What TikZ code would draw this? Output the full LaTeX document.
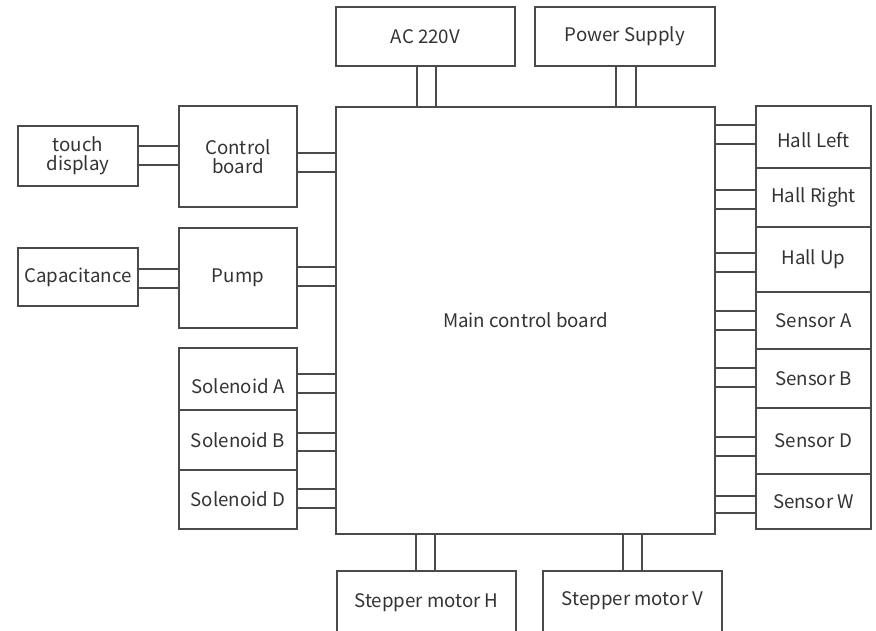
\documentclass[tikz,border=0pt]{standalone}
\usepackage{fontspec}
\setmainfont{Noto Sans CJK SC}
\usepackage{xcolor}
\usetikzlibrary{positioning}
\definecolor{linegray}{HTML}{4A4A4A}
\definecolor{textgray}{HTML}{333333}
\newcommand{\shiftlabel}[2]{\raisebox{#1}[\height][\depth]{#2}}

\begin{document}
\begin{tikzpicture}[
  x=1pt, y=-1pt,
  box/.style={draw=linegray, line width=1.4pt, align=center, inner sep=0pt, outer sep=0pt,
    text=textgray, font=\fontsize{18.7}{19}\selectfont},
  wire/.style={draw=linegray, line width=1.4pt}
]
\clip (0,0) rectangle (876,631);
% top
\node[box, minimum width=179, minimum height=59] (ac) at (425.5,36.5) {AC 220V};
\node[box, minimum width=180, minimum height=59] (ps) at (625,36.5) {Power Supply};
\node[box, minimum width=379, minimum height=427] (main) at (525.5,320.5) {Main control board};
% left
\node[box, minimum width=120, minimum height=60] (touch) at (78,156) {touch\\display};
\node[box, minimum width=118, minimum height=101] (ctrl) at (238,156.5) {Control\\board};
\node[box, minimum width=120, minimum height=58] (cap) at (78,277) {Capacitance};
\node[box, minimum width=118, minimum height=100] (pump) at (238,278) {Pump};
\node[box, minimum width=118, minimum height=62] (solA) at (238,379) {\shiftlabel{-7pt}{Solenoid A}};
\node[box, minimum width=118, minimum height=60] (solB) at (238,440) {Solenoid B};
\node[box, minimum width=118, minimum height=59] (solD) at (238,499.5) {Solenoid D};
% right
\node[box, minimum width=115, minimum height=62] (hl) at (813.5,137) {\shiftlabel{-3pt}{Hall Left}};
\node[box, minimum width=115, minimum height=59] (hr) at (813.5,197.5) {Hall Right};
\node[box, minimum width=115, minimum height=65] (hu) at (813.5,259.5) {Hall Up};
\node[box, minimum width=115, minimum height=57] (sa) at (813.5,320.5) {Sensor A};
\node[box, minimum width=115, minimum height=59] (sb) at (813.5,378.5) {Sensor B};
\node[box, minimum width=115, minimum height=66] (sd) at (813.5,441) {Sensor D};
\node[box, minimum width=115, minimum height=55] (sw) at (813.5,501.5) {Sensor W};
% bottom
\node[box, minimum width=179, minimum height=69] (sh) at (426.5,605.5) {\shiftlabel{3pt}{Stepper motor H}};
\node[box, minimum width=179, minimum height=69] (sv) at (632.5,605.5) {\shiftlabel{5pt}{Stepper motor V}};

% wire pairs
\foreach \ya/\yb in {146/165}
  \draw[wire] (touch.east |- 0,\ya) -- (ctrl.west |- 0,\ya) (touch.east |- 0,\yb) -- (ctrl.west |- 0,\yb);
\foreach \ya/\yb in {269/288}
  \draw[wire] (cap.east |- 0,\ya) -- (pump.west |- 0,\ya) (cap.east |- 0,\yb) -- (pump.west |- 0,\yb);
\foreach \src/\ya/\yb in {ctrl/153/172, pump/267/286, solA/374/393, solB/433/451, solD/489/508}
  \draw[wire] (\src.east |- 0,\ya) -- (main.west |- 0,\ya) (\src.east |- 0,\yb) -- (main.west |- 0,\yb);
\foreach \dst/\ya/\yb in {hl/125/144, hr/190/209, hu/253/272, sa/311/330, sb/368/387, sd/437/456, sw/496/513}
  \draw[wire] (main.east |- 0,\ya) -- (\dst.west |- 0,\ya) (main.east |- 0,\yb) -- (\dst.west |- 0,\yb);
\foreach \src/\xa/\xb in {ac/417/436, ps/616/636}
  \draw[wire] (\src.south -| \xa,0) -- (main.north -| \xa,0) (\src.south -| \xb,0) -- (main.north -| \xb,0);
\foreach \dst/\xa/\xb in {sh/416/435, sv/623/642}
  \draw[wire] (main.south -| \xa,0) -- (\dst.north -| \xa,0) (main.south -| \xb,0) -- (\dst.north -| \xb,0);
\end{tikzpicture}
\end{document}
